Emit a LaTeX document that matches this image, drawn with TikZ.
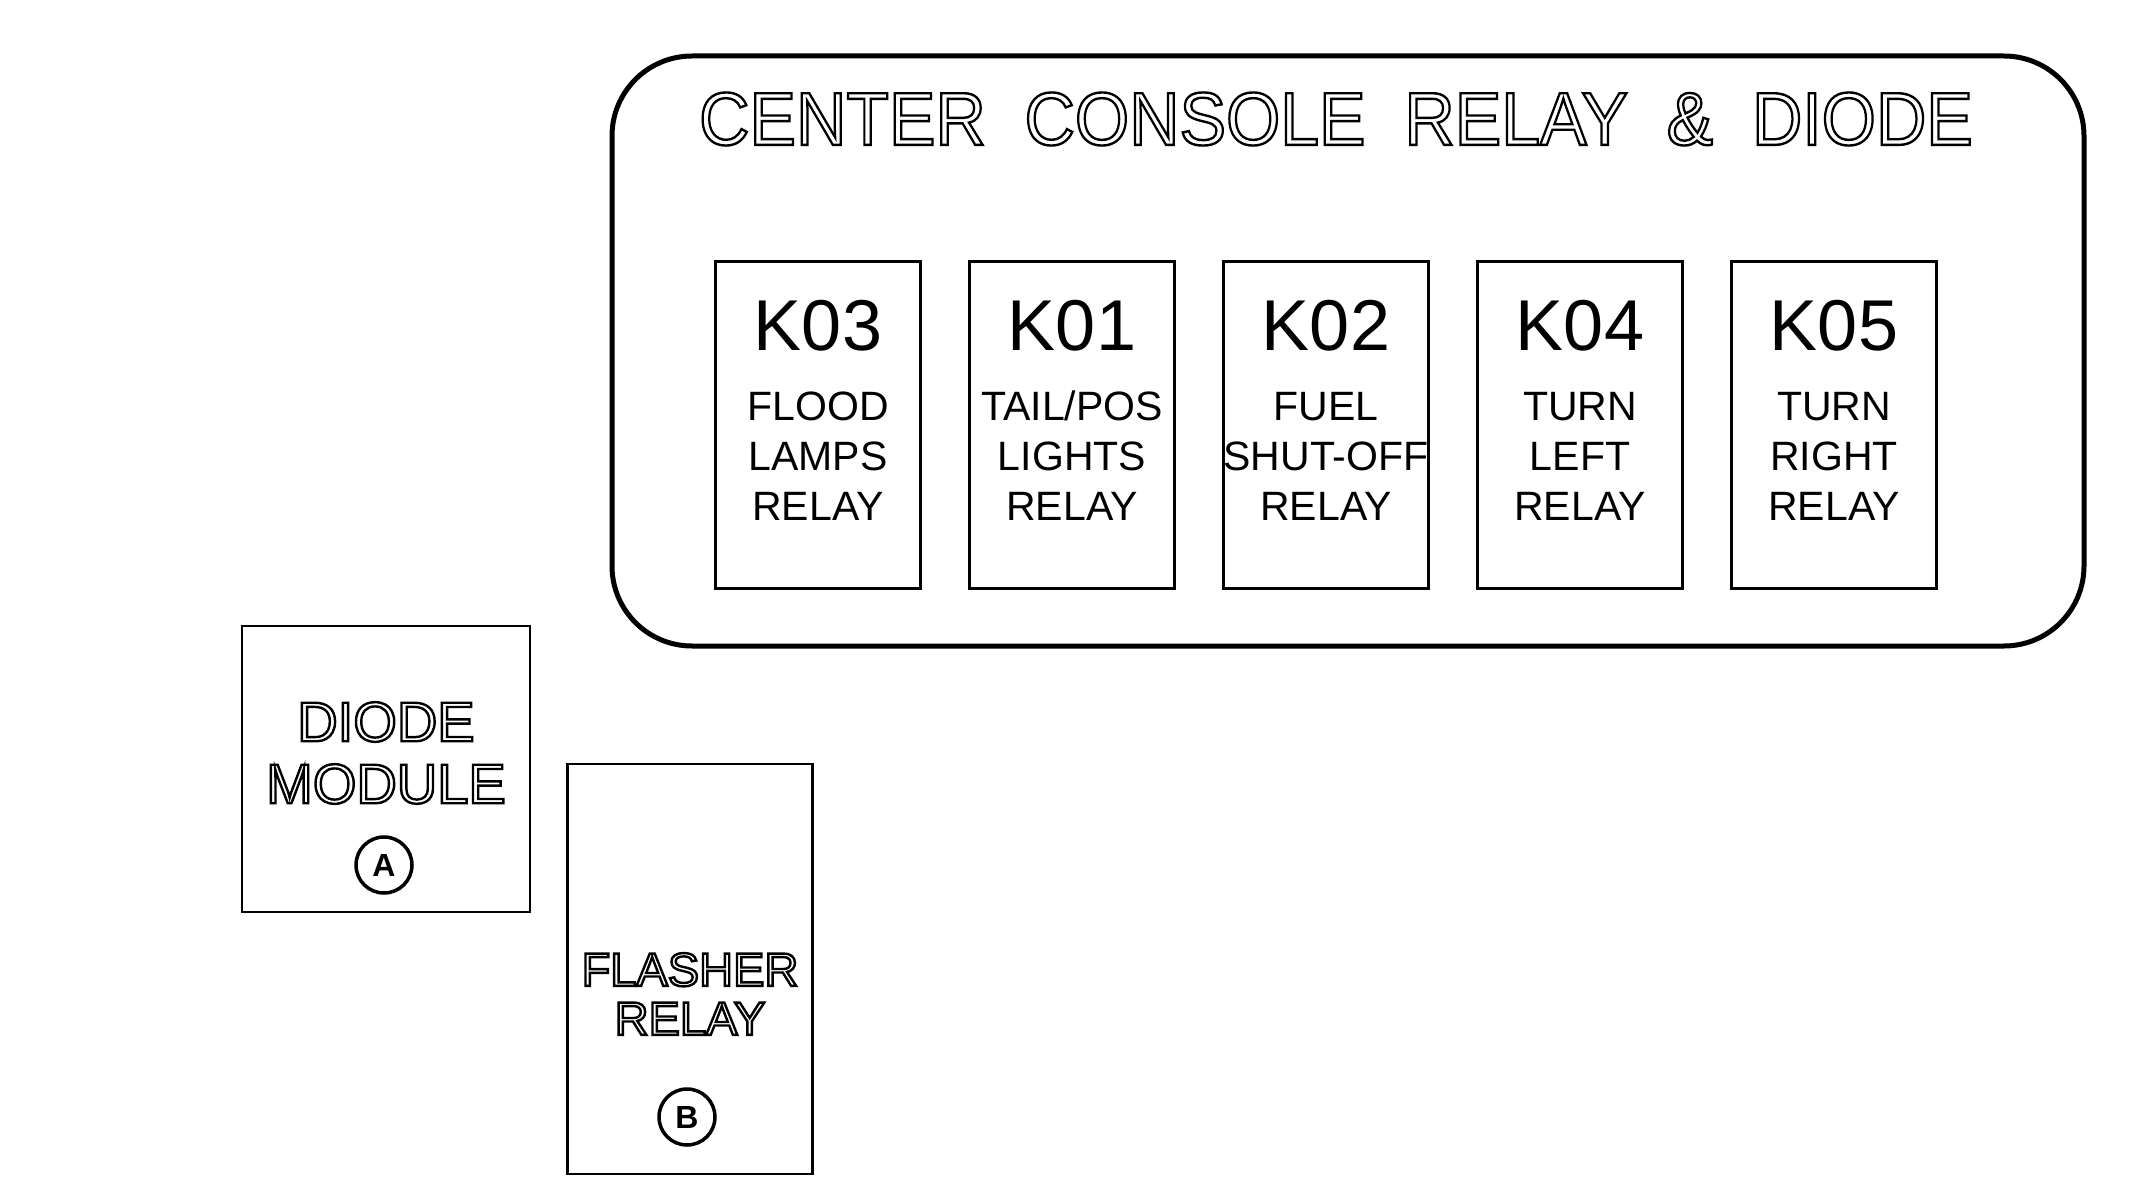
\documentclass[tikz,border=0pt]{standalone}
\usepackage{fontspec}
\setmainfont{Liberation Sans}
\usepackage{graphicx}
\newcommand{\outl}[1]{\special{pdf:code q 1 Tr 2.4 w}#1\special{pdf:code Q}}
\begin{document}
\begin{tikzpicture}[x=1pt,y=-1pt,
  relaybox/.style={draw,line width=2.5pt,minimum width=205pt,minimum height=327pt,inner sep=0pt},
  modbox/.style={draw,line width=2.5pt,inner sep=0pt},
  kid/.style={font=\fontsize{72}{72}\selectfont,anchor=center},
  klab/.style={font=\fontsize{41}{50}\selectfont,align=center,anchor=center},
  lett/.style={draw,circle,line width=3.5pt,minimum size=56pt,inner sep=0pt,font=\bfseries\fontsize{32}{32}\selectfont}]
\useasboundingbox (0,0) rectangle (2129,1204);
\fill[white] (0,0) rectangle (2129,1204);
% console
\node[draw,line width=5pt,rounded corners=80pt,minimum width=1472pt,minimum height=590pt,inner sep=0pt] (console) at (1348,351) {};
\node[font=\fontsize{75}{75}\selectfont,anchor=center] (title) at (1336,119) {\scalebox{0.93}[1]{\outl{CENTER\ \ CONSOLE\ \ RELAY\ \ \&\ \ DIODE}}};
% relays
\node[relaybox] (k03) at (818,425) {};
\node[relaybox] (k01) at (1072,425) {};
\node[relaybox] (k02) at (1326,425) {};
\node[relaybox] (k04) at (1580,425) {};
\node[relaybox] (k05) at (1834,425) {};
\node[kid] (k03id) at (818,326) {K03};
\node[kid] (k01id) at (1072,326) {K01};
\node[kid] (k02id) at (1326,326) {K02};
\node[kid] (k04id) at (1580,326) {K04};
\node[kid] (k05id) at (1834,326) {K05};
\node[klab] (k03l) at (818,456) {FLOOD\\LAMPS\\RELAY};
\node[klab] (k01l) at (1072,456) {TAIL/POS\\LIGHTS\\RELAY};
\node[klab] (k02l) at (1326,456) {FUEL\\SHUT-OFF\\RELAY};
\node[klab] (k04l) at (1580,456) {TURN\\LEFT\\RELAY};
\node[klab] (k05l) at (1834,456) {TURN\\RIGHT\\RELAY};
% diode module
\node[modbox,minimum width=288pt,minimum height=286pt] (diode) at (386,769) {};
\node[font=\fontsize{56}{64}\selectfont,align=center] (diodet) at (386,753) {\outl{DIODE}\\[-2pt]\outl{MODULE}};
\node[lett] (a) at (384,865) {A};
% flasher
\node[modbox,minimum width=245pt,minimum height=410pt] (flash) at (690,969) {};
\node[font=\fontsize{47}{49}\selectfont,align=center] (flasht) at (690,994) {\outl{FLASHER}\\\outl{RELAY}};
\node[lett] (b) at (687,1117) {B};
\end{tikzpicture}
\end{document}
